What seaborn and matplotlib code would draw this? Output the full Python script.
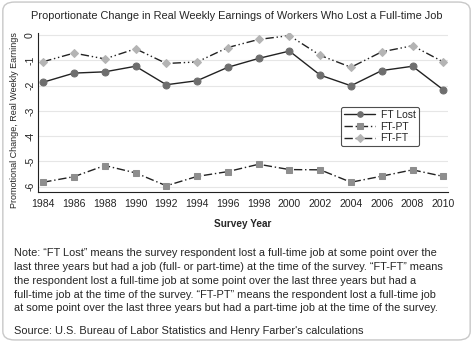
import matplotlib
matplotlib.use("Agg")
import matplotlib.pyplot as plt
from matplotlib.patches import FancyBboxPatch
import seaborn as sns
import pandas as pd

years = [1984, 1986, 1988, 1990, 1992, 1994, 1996, 1998, 2000, 2002, 2004, 2006, 2008, 2010]
ft_lost = [-1.87, -1.51, -1.46, -1.24, -1.97, -1.81, -1.28, -0.93, -0.64, -1.59, -2.01, -1.41, -1.24, -2.17]
ft_pt = [-5.82, -5.60, -5.16, -5.45, -5.96, -5.59, -5.40, -5.11, -5.32, -5.33, -5.82, -5.58, -5.33, -5.59]
ft_ft = [-1.06, -0.72, -0.95, -0.55, -1.13, -1.07, -0.50, -0.18, -0.03, -0.81, -1.28, -0.67, -0.43, -1.07]
series_names = ["FT Lost", "FT-PT", "FT-FT"]
yticks = [0, -1, -2, -3, -4, -5, -6]

title = "Proportionate Change in Real Weekly Earnings of Workers Who Lost a Full-time Job"
ylabel = "Promotional Change, Real Weekly Earnings"
xlabel = "Survey Year"
note = ("Note: \u201cFT Lost\u201d means the survey respondent lost a full-time job at some point over the\n"
        "last three years but had a job (full- or part-time) at the time of the survey. \u201cFT-FT\u201d means\n"
        "the respondent lost a full-time job at some point over the last three years but had a\n"
        "full-time job at the time of the survey. \u201cFT-PT\u201d means the respondent lost a full-time job\n"
        "at some point over the last three years but had a part-time job at the time of the survey.")
source = "Source: U.S. Bureau of Labor Statistics and Henry Farber's calculations"

sns.set_style("white")
plt.rcParams['font.family'] = ['Liberation Sans', 'DejaVu Sans']

fig = plt.figure(figsize=(4.73, 3.42), dpi=100)
fig.patch.set_facecolor("white")
frame = FancyBboxPatch((0.006, 0.006), 0.988, 0.988, boxstyle="round,pad=0,rounding_size=0.025",
                       transform=fig.transFigure, facecolor="white", edgecolor="#c8c8c8", linewidth=1.0,
                       zorder=-10)
fig.patches.append(frame)

ax = fig.add_axes([0.080, 0.439, 0.867, 0.465])
ax.set_facecolor("none")

df = pd.DataFrame({"year": years, "FT Lost": ft_lost, "FT-PT": ft_pt, "FT-FT": ft_ft})
styles = {
    "FT Lost": dict(marker="o", mfc="#6e6e6e", ls="-", ms=5),
    "FT-PT": dict(marker="s", mfc="#8e8e8e", ls=(0, (6, 2, 1, 2)), ms=5),
    "FT-FT": dict(marker="D", mfc="#b4b4b4", ls=(0, (6, 2, 1, 2, 1, 2)), ms=4.5),
}
for name in series_names:
    st = styles[name]
    sns.lineplot(data=df, x="year", y=name, ax=ax, color="#222222", linewidth=1.0,
                 linestyle=st["ls"], marker=st["marker"], markersize=st["ms"],
                 markerfacecolor=st["mfc"], markeredgecolor=st["mfc"], label=name)

ax.set_xlim(1983.65, 2010.3)
ax.set_ylim(-6.2, 0.08)
ax.set_xticks(years)
ax.set_xticklabels([str(y) for y in years], fontsize=7.6)
ax.set_yticks(yticks)
ax.set_yticklabels([str(t) for t in yticks], fontsize=7.6, rotation=90, va="center")
ax.yaxis.grid(True, color="#e6e6e6", linewidth=0.8)
ax.xaxis.grid(False)
for s in ["top", "right"]:
    ax.spines[s].set_visible(False)
for s in ["left", "bottom"]:
    ax.spines[s].set_color("#222222")
    ax.spines[s].set_linewidth(0.8)
ax.tick_params(axis="both", direction="out", length=3, width=0.8, color="#222222", pad=2)
ax.tick_params(axis="y", pad=-1)
ax.set_xlabel(xlabel, fontsize=7.2, fontweight="bold", labelpad=7)
ax.set_ylabel(ylabel, fontsize=6.5)
ax.yaxis.set_label_coords(-0.045, 0.453)

leg = ax.legend(loc="upper left", bbox_to_anchor=(341 / 473, 1 - 107 / 342), bbox_transform=fig.transFigure,
                fontsize=7.5, frameon=True, fancybox=True, edgecolor="#222222", handlelength=3.0,
                handletextpad=0.5, borderpad=0.3, labelspacing=0.15, borderaxespad=0, markerscale=0.8)
leg.get_frame().set_linewidth(0.8)

fig.text(0.5, 1 - 16 / 342, title, ha="center", va="center", fontsize=7.9)
fig.text(14 / 473, 1 - 248 / 342, note, ha="left", va="top", fontsize=7.9, linespacing=1.48)
fig.text(14 / 473, 1 - 330.5 / 342, source, ha="left", va="center", fontsize=7.9)

fig.savefig("out.png", dpi=100, facecolor="white")
